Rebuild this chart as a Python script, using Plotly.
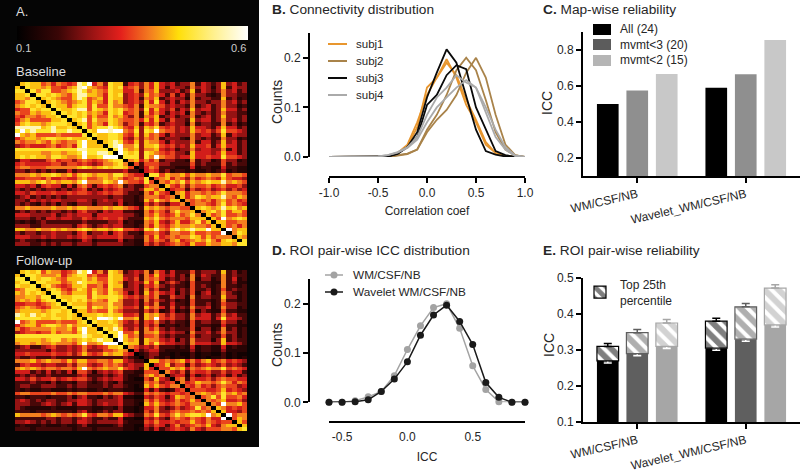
import numpy as np
import plotly.graph_objects as go

W, H = 800, 474

# connectivity maps, upper triangle, one hex digit per cell
baseline_rows = [
    "08988 67576 56a9c 57498 83564 75854 53447 35434 84534",
    "0988 78665 78ac8 76598 95674 75853 54437 45424 83544",
    "097 99667 89a97 87698 85573 76844 45348 35434 74534",
    "09 98987 68aa8 87598 94564 86753 63537 44323 74433",
    "0 89876 68a96 78598 84563 76834 54427 34433 83423",
    "08987 67896 87597 84564 85953 53547 44344 74534",
    "0988 68996 96697 76573 87764 54437 34534 74423",
    "098 89aa6 98798 97674 95854 63548 45534 85534",
    "09 89897 87598 95673 85753 54527 43434 74433",
    "0 99896 86697 86473 76834 53447 34534 84434",
    "089a6 97798 76675 85853 64438 45534 74534",
    "0896 87598 74673 65734 54427 34433 73423",
    "096 899a9 86584 87965 64548 55435 85534",
    "09 8ccac c7694 98c76 64548 65646 96654",
    "0 98899 86584 86753 54447 45534 83544",
    "08899 85474 76734 44327 43433 74423",
    "089a 96584 87753 54447 35534 84534",
    "09a c7794 88965 64548 55635 85534",
    "09 c8784 77854 53447 45544 73534",
    "0 c9894 98765 64438 55545 85534",
    "09994 97c76 64558 55655 96654",
    "0785 75734 43327 34423 64423",
    "063 66644 33336 34333 63433",
    "03 57633 32225 23322 53322",
    "0 56534 23323 22323 42322",
    "09968 77868 77877 96776",
    "0678 57647 56765 86554",
    "076 87968 78988 a7876",
    "08 65747 66756 75564",
    "0 56636 45645 64645",
    "07857 76767 97776",
    "0857 98788 a7687",
    "076 76757 86756",
    "06 77657 96765",
    "0 89878 a8978",
    "07897 96886",
    "0867 96676",
    "086 c7898",
    "08 86677",
    "0 86757",
    "0c788",
    "0798",
    "087",
    "09",
    "9",
]
followup_rows = [
    "08989 68775 67a9c 57498 73454 73753 53336 34443 83423",
    "0998 77785 78996 75598 84453 75854 53427 35433 73433",
    "098 99876 88897 86698 85463 76753 43437 24423 73523",
    "09 98886 78a98 87698 73454 85834 64326 33322 73422",
    "0 89765 68896 67598 83453 65743 43326 34323 73323",
    "08986 57986 87697 74453 74633 53436 33423 63433",
    "0997 68886 97698 75353 85754 52436 24523 74323",
    "098 89996 98899 86564 75733 64427 34433 84423",
    "09 89897 87699 74453 74643 42326 33323 73323",
    "0 98886 77797 74453 64733 53326 33423 64433",
    "09996 98798 75563 86753 63437 44523 74423",
    "0886 76697 64443 64623 52326 24322 63322",
    "088 89898 85563 87864 64437 45534 74533",
    "09 8cba9 c7783 87c65 64437 55535 95543",
    "0 98898 75463 65743 43326 34433 64423",
    "08889 74453 64623 32326 33322 53322",
    "098a 85463 75743 43336 24423 73423",
    "099 c6683 77854 54427 44534 74423",
    "09 c8673 66743 43336 34433 63423",
    "0 c8783 87754 52437 44424 83433",
    "09883 86965 54437 55544 85543",
    "0764 54633 32325 23322 52322",
    "053 45532 22224 23322 42222",
    "02 34422 12113 12211 31211",
    "0 34323 12213 12122 31212",
    "08867 67857 57856 75654",
    "0568 46636 45654 64543",
    "066 87857 67877 96765",
    "07 54636 55644 64553",
    "0 45525 34534 53534",
    "06736 55646 76655",
    "0756 87767 97576",
    "065 75646 76645",
    "06 66556 85654",
    "0 78767 97867",
    "06796 96675",
    "0767 85564",
    "076 c7786",
    "08 75656",
    "0 85546",
    "0c677",
    "0687",
    "086",
    "08",
    "9",
]
# correlation for each digit above
digit_levels = [0.1, 0.13, 0.16, 0.2, 0.26, 0.31, 0.35, 0.39, 0.43, 0.47, 0.55, 0.6, 0.6]

# B. connectivity distribution (each subject has two sessions)
coef = [-1.0, -0.9, -0.8, -0.7, -0.6, -0.5, -0.4, -0.3, -0.2, -0.1, 0.0,
        0.1, 0.2, 0.3, 0.4, 0.5, 0.6, 0.7, 0.8, 0.9, 1.0]
subj1_a = [0, 0, 0, 0, 0, 0, .001, .006, .022, .06, .14, .16, .197, .16, .105, .07, .025, .008, .002, 0, 0]
subj1_b = [0, 0, 0, 0, 0, 0, .002, .008, .025, .07, .125, .16, .19, .165, .115, .075, .03, .008, .002, 0, 0]
subj2_a = [0, 0, 0, 0, 0, 0, 0, .003, .006, .015, .05, .075, .095, .125, .17, .2, .16, .085, .025, .004, 0]
subj2_b = [0, 0, 0, 0, 0, 0, 0, .004, .007, .015, .055, .085, .125, .175, .2, .175, .115, .05, .015, .003, 0]
subj3_a = [0, 0, 0, 0, 0, 0, .001, .007, .02, .05, .12, .17, .217, .19, .12, .055, .012, .005, .001, 0, 0]
subj3_b = [0, 0, 0, 0, 0, 0, .001, .006, .02, .04, .105, .125, .165, .185, .177, .1, .055, .012, .004, 0, 0]
subj4_a = [0, 0, 0, 0, 0, .001, .004, .01, .02, .04, .085, .12, .14, .165, .15, .14, .09, .04, .015, .002, 0]
subj4_b = [0, 0, 0, 0, 0, .001, .004, .009, .018, .035, .07, .1, .12, .14, .155, .14, .1, .055, .02, .003, 0]
subj_names = ["subj1", "subj2", "subj3", "subj4"]
subj_colors = ["#e8962e", "#a9834a", "#0a0a0a", "#aaaaaa"]

# D. ROI pair-wise ICC distribution
icc_bins = [-0.6, -0.5, -0.4, -0.3, -0.2, -0.1, 0.0, 0.1, 0.2, 0.3, 0.4, 0.5, 0.6, 0.7, 0.8, 0.9]
icc_wm = [0, 0, .003, .011, .022, .054, .107, .155, .192, .2, .15, .074, .026, .001, 0, 0]
icc_wavelet = [0, 0, .001, .005, .022, .047, .082, .136, .177, .197, .164, .117, .04, .01, 0, 0]

# C. and E.
pipelines = ["WM/CSF/NB", "Wavelet_WM/CSF/NB"]
map_all = [0.5, 0.59]
map_mvmt3 = [0.575, 0.665]
map_mvmt2 = [0.667, 0.855]
pair_all = [0.27, 0.305]
pair_mvmt3 = [0.29, 0.33]
pair_mvmt2 = [0.31, 0.37]
top_all = [0.31, 0.38]
top_mvmt3 = [0.348, 0.42]
top_mvmt2 = [0.375, 0.472]
top_err = [[.008, .008], [.009, .009], [.01, .009]]
low_err = [[.006, .006], [.006, .006], [.006, .006]]

heat_scale = [[0, "#000000"], [0.18, "#3a0606"], [0.33, "#9c1414"], [0.45, "#e4201c"],
              [0.58, "#f4801f"], [0.7, "#ffdf0a"], [0.85, "#fff08c"], [1, "#ffffff"]]
TEXT = "#262626"
FONT = "Liberation Sans"


def px(x):
    return x / W


def py(y):
    return 1 - y / H


def to_matrix(rows):
    n = len(rows)
    mat = np.zeros((n, n))
    for i, row in enumerate(rows):
        for k, d in enumerate(row.replace(" ", "")):
            mat[i, i + k] = mat[i + k, i] = digit_levels[int(d, 16)]
    return mat


def axis_common(**kw):
    base = dict(showgrid=False, zeroline=False, showline=True, linecolor="#000000",
                linewidth=2, ticks="outside", ticklen=5, tickwidth=2, tickcolor="#000000",
                tickfont=dict(size=12, color=TEXT, family=FONT))
    base.update(kw)
    return base


def note(x, y, text, size=11, color=TEXT, anchor="left", angle=0):
    return dict(x=px(x), y=py(y), xref="paper", yref="paper", text=text, showarrow=False, textangle=angle,
                xanchor=anchor, yanchor="middle", font=dict(size=size, color=color, family=FONT))


def paper_line(x0, x1, y, color, width=2):
    return dict(type="line", xref="paper", yref="paper", x0=px(x0), x1=px(x1), y0=py(y), y1=py(y),
                line=dict(color=color, width=width))


def paper_rect(x0, x1, y0, y1, color):
    return dict(type="rect", xref="paper", yref="paper", x0=px(x0), x1=px(x1), y0=py(y0), y1=py(y1),
                fillcolor=color, line=dict(width=0))


fig = go.Figure()

fig.add_trace(go.Heatmap(z=to_matrix(baseline_rows), coloraxis="coloraxis", xaxis="x", yaxis="y", showlegend=False))
fig.add_trace(go.Heatmap(z=to_matrix(followup_rows), coloraxis="coloraxis", xaxis="x2", yaxis="y2", showlegend=False))

sessions = [(subj1_a, subj1_b), (subj2_a, subj2_b), (subj3_a, subj3_b), (subj4_a, subj4_b)]
for name, color, pair in zip(subj_names, subj_colors, sessions):
    for vals in pair:
        fig.add_trace(go.Scatter(x=coef, y=vals, mode="lines", name=name, showlegend=False,
                                 line=dict(color=color, width=1.8), xaxis="x3", yaxis="y3"))

for name, vals, color in [("All (24)", map_all, "#000000"), ("mvmt<3 (20)", map_mvmt3, "#8f8f8f"),
                          ("mvmt<2 (15)", map_mvmt2, "#c8c8c8")]:
    fig.add_trace(go.Bar(x=pipelines, y=vals, name=name, offsetgroup=name, showlegend=False,
                         marker=dict(color=color, line=dict(width=0)), xaxis="x4", yaxis="y4"))

fig.add_trace(go.Scatter(x=icc_bins, y=icc_wm, mode="lines+markers", name="WM/CSF/NB", showlegend=False, cliponaxis=False,
                         line=dict(color="#a3a3a3", width=1.5), marker=dict(color="#a3a3a3", size=7), xaxis="x5", yaxis="y5"))
fig.add_trace(go.Scatter(x=icc_bins, y=icc_wavelet, mode="lines+markers", name="Wavelet WM/CSF/NB", showlegend=False, cliponaxis=False,
                         line=dict(color="#1a1a1a", width=1.5), marker=dict(color="#1a1a1a", size=7), xaxis="x5", yaxis="y5"))

pair_sets = [("All", pair_all, top_all, "#000000"), ("mvmt<3", pair_mvmt3, top_mvmt3, "#5f5f5f"),
             ("mvmt<2", pair_mvmt2, top_mvmt2, "#a6a6a6")]
for i, (name, low, top, color) in enumerate(pair_sets):
    fig.add_trace(go.Bar(x=pipelines, y=low, name=name, offsetgroup=name, showlegend=False,
                         marker=dict(color=color, line=dict(width=0)),
                         error_y=dict(type="data", symmetric=False, array=[0, 0], arrayminus=low_err[i],
                                      color="#ffffff", thickness=1.5, width=4),
                         xaxis="x6", yaxis="y6"))
    fig.add_trace(go.Bar(x=pipelines, y=[t - b for t, b in zip(top, low)], base=low, offsetgroup=name,
                         name="Top 25th<br>percentile", showlegend=i == 0,
                         marker=dict(color="#ffffff", line=dict(color=color, width=1.2),
                                     pattern=dict(shape="\\", size=10, solidity=0.6, fgcolor=color, bgcolor="#ffffff")),
                         error_y=dict(type="data", symmetric=False, array=top_err[i], arrayminus=[0, 0],
                                      color=color, thickness=1.5, width=4),
                         xaxis="x6", yaxis="y6"))

shapes = [paper_rect(0, 259, 0, 447, "#050505")]
shapes[0]["layer"] = "below"
# legend keys of B, C and D
for i, color in enumerate(subj_colors):
    shapes.append(paper_line(328, 347, 44 + 17 * i, color))
shapes += [paper_rect(593, 611, 24, 35, "#000000"), paper_rect(593, 611, 39, 50, "#5c5c5c"),
           paper_rect(593, 611, 55, 66, "#b5b5b5")]
for y, color in [(275, "#a3a3a3"), (292, "#1a1a1a")]:
    shapes.append(paper_line(325, 343, y, color, 1.5))
    shapes.append(dict(type="circle", xref="paper", yref="paper", x0=px(330.5), x1=px(337.5), y0=py(y - 3.5), y1=py(y + 3.5),
                       fillcolor=color, line=dict(width=0)))

annotations = [
    note(14, 11, "A.", 13, "#dddddd"),
    note(14, 48, "0.1", 11, "#cccccc"),
    note(248, 48, "0.6", 11, "#cccccc", "right"),
    note(14, 71, "Baseline", 13, "#dddddd"),
    note(14, 260, "Follow-up", 13, "#dddddd"),
    note(270, 10, "<b>B.</b> Connectivity distribution", 13.7),
    note(541, 10, "<b>C.</b> Map-wise reliability", 13.7),
    note(270, 250, "<b>D.</b> ROI pair-wise ICC distribution", 13.7),
    note(541, 250, "<b>E.</b> ROI pair-wise reliability", 13.7),
    note(618, 29, "All (24)", 12),
    note(618, 44.5, "mvmt&lt;3 (20)", 12),
    note(618, 60, "mvmt&lt;2 (15)", 12),
    note(351, 275, "WM/CSF/NB", 11.8),
    note(351, 292, "Wavelet WM/CSF/NB", 11.8),
    note(277, 102, "Counts", 14, anchor="center", angle=-90),
    note(277, 345, "Counts", 14, anchor="center", angle=-90),
    note(547, 103, "ICC", 14, anchor="center", angle=-90),
    note(549, 345, "ICC", 14, anchor="center", angle=-90),
]
for i, name in enumerate(subj_names):
    annotations.append(note(354, 44 + 17 * i, name, 11.5))

hidden = dict(visible=False)
title_x = dict(size=12, color=TEXT, family=FONT)

fig.update_layout(
    width=W, height=H, margin=dict(l=0, r=0, t=0, b=0, autoexpand=False), autosize=False,
    paper_bgcolor="#ffffff", plot_bgcolor="rgba(0,0,0,0)",
    font=dict(family=FONT, color=TEXT),
    barmode="group", bargap=0.185, bargroupgap=0.265,
    shapes=shapes, annotations=annotations,
    coloraxis=dict(cmin=0.1, cmax=0.6, colorscale=heat_scale,
                   colorbar=dict(orientation="h", lenmode="pixels", len=231, thickness=14,
                                 thicknessmode="pixels", x=px(17), xanchor="left", y=py(26), yanchor="top",
                                 xpad=0, ypad=0, outlinewidth=0, showticklabels=False, ticks="")),
    xaxis=dict(domain=[px(15), px(247)], **hidden),
    yaxis=dict(domain=[py(246), py(82)], autorange="reversed", **hidden),
    xaxis2=dict(domain=[px(15), px(247)], **hidden),
    yaxis2=dict(domain=[py(431), py(270)], autorange="reversed", **hidden),
    xaxis3=axis_common(domain=[px(329), px(525)], range=[-1, 1], tickvals=[-1, -0.5, 0, 0.5, 1],
                       ticktext=["-1.0", "-0.5", "0.0", "0.5", "1.0"], anchor="free", position=py(177),
                       title=dict(text="Correlation coef", font=title_x, standoff=6)),
    yaxis3=axis_common(domain=[py(157), py(33)], range=[0, 0.25], tickvals=[0, 0.1, 0.2],
                       tickformat=".1f", anchor="free", position=px(309)),
    xaxis4=axis_common(domain=[px(583), px(800)], range=[-0.5, 1.5], type="category", tickangle=-13, anchor="y4"),
    yaxis4=axis_common(domain=[py(176), py(32)], range=[0.1, 0.9], tickvals=[0.2, 0.4, 0.6, 0.8],
                       tickformat=".1f", anchor="x4"),
    xaxis5=axis_common(domain=[px(329), px(525)], range=[-0.6, 0.9], tickvals=[-0.5, 0, 0.5],
                       ticktext=["-0.5", "0.0", "0.5"], tickcolor="rgba(0,0,0,0)", ticklen=4, anchor="free", position=py(422),
                       title=dict(text="ICC", font=title_x, standoff=8)),
    yaxis5=axis_common(domain=[py(402.3), py(279)], range=[0, 0.25], tickvals=[0, 0.1, 0.2],
                       tickformat=".1f", anchor="free", position=px(309)),
    xaxis6=axis_common(domain=[px(583), px(800)], range=[-0.5, 1.5], type="category", tickangle=-13, anchor="y6"),
    yaxis6=axis_common(domain=[py(422), py(278)], range=[0.1, 0.5], tickvals=[0.1, 0.2, 0.3, 0.4, 0.5],
                       tickformat=".1f", anchor="x6"),
    legend=dict(x=px(580), y=py(270), xanchor="left", yanchor="top", bgcolor="rgba(0,0,0,0)",
                font=dict(size=12, color=TEXT, family=FONT), itemclick=False, itemdoubleclick=False),
)

fig.write_html("out.html", config=dict(displayModeBar=False),
               post_script="document.body.style.margin='0';")
